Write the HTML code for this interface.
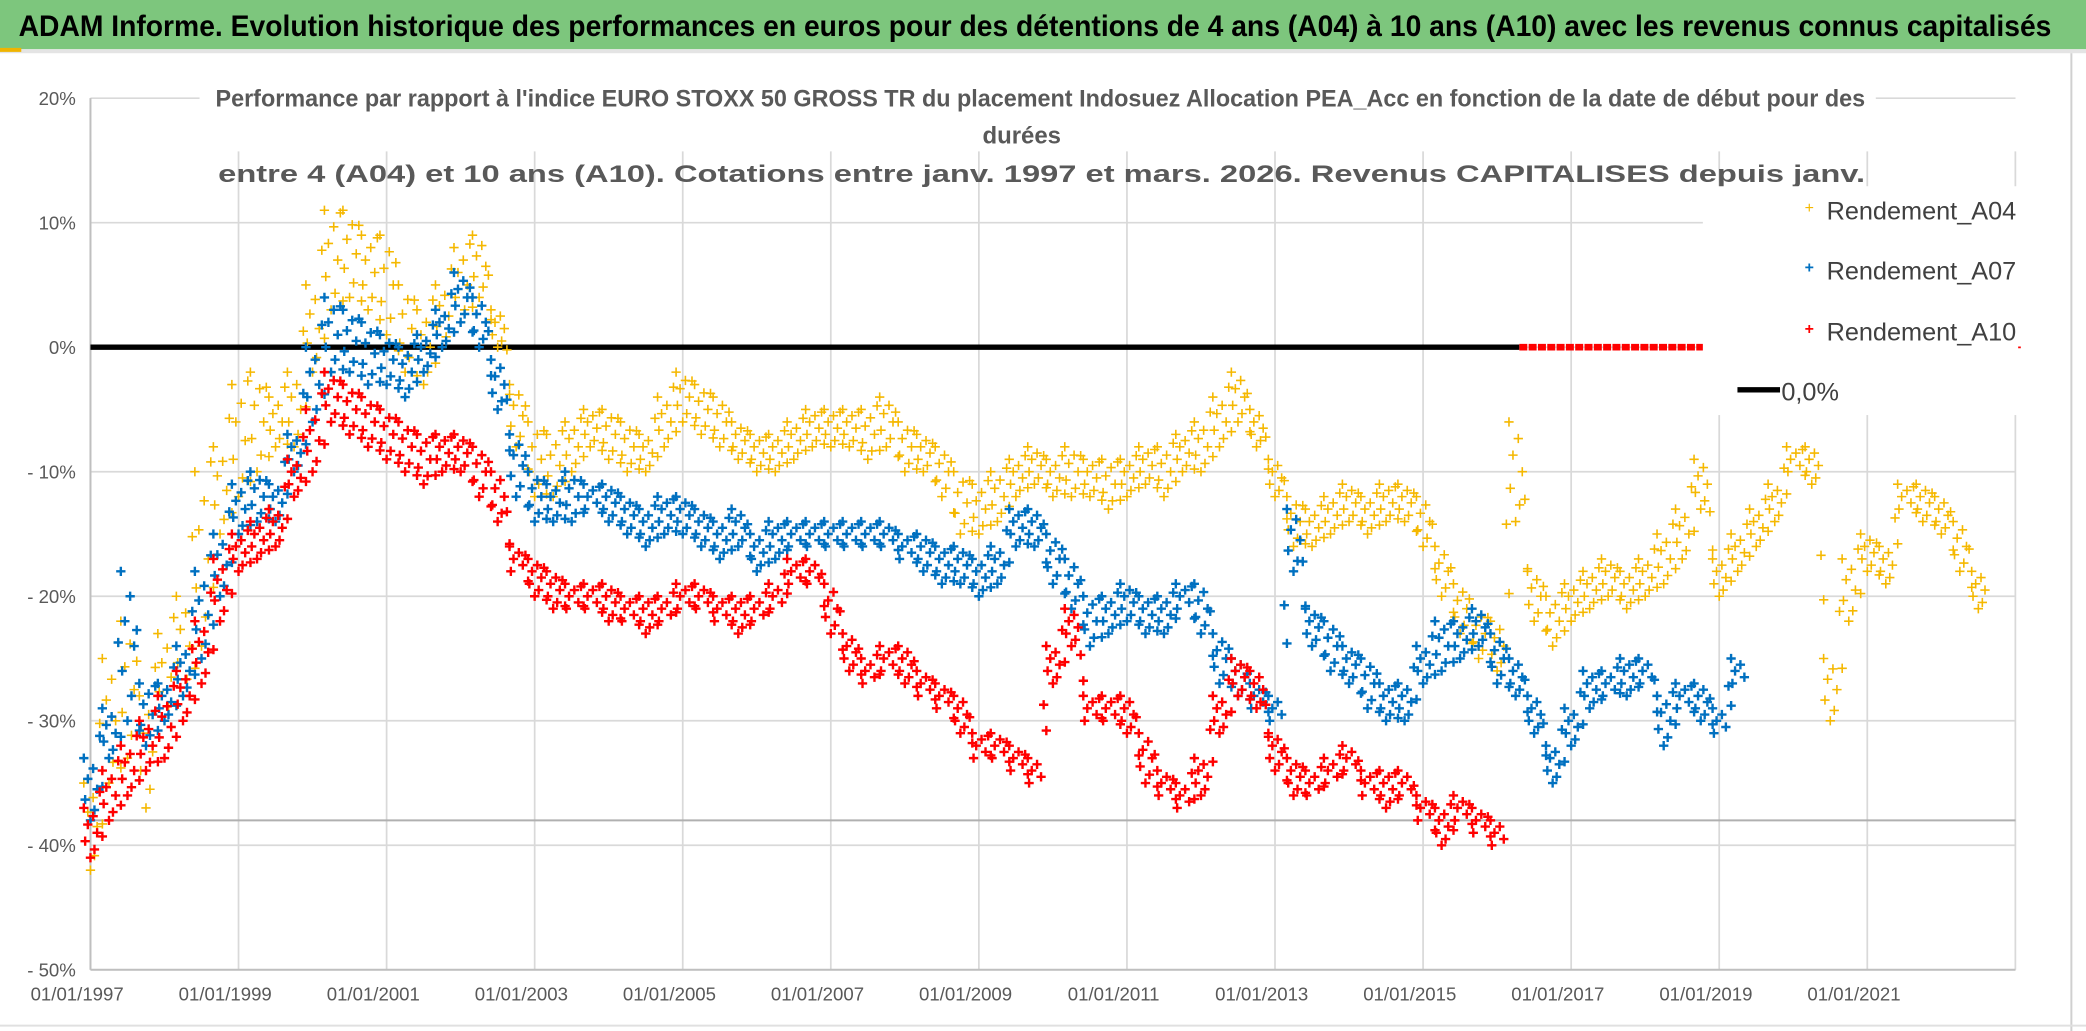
<!DOCTYPE html>
<html><head><meta charset="utf-8">
<style>
html,body{margin:0;padding:0;background:#fff;}
svg{display:block;}
text{font-family:"Liberation Sans Narrow","Liberation Sans",sans-serif;}
</style></head>
<body>
<svg id="chart" width="2086" height="1031" viewBox="0 0 1568 775" preserveAspectRatio="none" xmlns="http://www.w3.org/2000/svg">
  <rect x="0" y="0" width="1568" height="775" fill="#fff"/>
  <rect x="0" y="0" width="1568" height="37" fill="#7dc67d"/>
  <rect x="0" y="37" width="1568" height="3" fill="#e4e4e4"/>
  <rect x="0" y="36" width="16" height="3" fill="#f0b400"/>
  <text x="14" y="27" font-size="22" font-weight="bold" fill="#000" textLength="1528" lengthAdjust="spacingAndGlyphs">ADAM Informe. Evolution historique des performances en euros pour des détentions de 4 ans (A04) à 10 ans (A10) avec les revenus connus capitalisés</text>
  <line x1="1557" y1="40" x2="1557" y2="775" stroke="#d0d0d0" stroke-width="1.5"/>
  <line x1="0" y1="771" x2="1568" y2="771" stroke="#e0e0e0" stroke-width="1.5"/>
  <g id="grid"></g>
  <g id="axes"></g>
  <g id="series"></g>
  <rect x="150" y="60" width="1260" height="22" fill="#fff"/>
  <g fill="#595959" font-size="18" font-weight="bold" text-anchor="middle">
    <text x="782" y="80" textLength="1240" lengthAdjust="spacingAndGlyphs">Performance par rapport à l'indice EURO STOXX 50 GROSS TR  du placement Indosuez Allocation PEA_Acc en fonction de la date de début pour des</text>
    <text x="768" y="108">durées</text>
    <text x="783" y="137" textLength="1238" lengthAdjust="spacingAndGlyphs">entre 4 (A04) et 10 ans (A10). Cotations entre janv. 1997 et mars. 2026. Revenus CAPITALISES depuis janv.</text>
  </g>
  <g id="legend">
    <rect x="1280" y="140" width="237" height="172" fill="#fff"/>
    <g>
      <text x="1360" y="160" fill="#f5b800" font-size="12" text-anchor="middle">+</text>
      <text x="1373" y="165" fill="#404040" font-size="19">Rendement_A04</text>
    </g>
    <g>
      <text x="1360" y="205" fill="#0070c0" font-size="12" text-anchor="middle" font-weight="bold">+</text>
      <text x="1373" y="210" fill="#404040" font-size="19">Rendement_A07</text>
    </g>
    <g>
      <text x="1360" y="251" fill="#ff0000" font-size="12" text-anchor="middle" font-weight="bold">+</text>
      <text x="1373" y="256" fill="#404040" font-size="19">Rendement_A10</text>
    </g>
    <g>
      <line x1="1306" y1="293" x2="1338" y2="293" stroke="#000" stroke-width="4"/>
      <text x="1339" y="301" fill="#404040" font-size="19">0,0%</text>
    </g>
  </g>
  <text x="1516" y="265" fill="#ff0000" font-size="12" text-anchor="middle" font-weight="bold">+</text>
</svg>
<script>
const START_YEAR = 1997;
const STEP = 0.25;
const yTicks = [20, 10, 0, -10, -20, -30, -40, -50];
const yTickLabels = ["20%", "10%", "0%", "- 10%", "- 20%", "- 30%", "- 40%", "- 50%"];
const xTicks = [1997, 1999, 2001, 2003, 2005, 2007, 2009, 2011, 2013, 2015, 2017, 2019, 2021, 2023];
const xTickLabels = ["01/01/1997","01/01/1999","01/01/2001","01/01/2003","01/01/2005","01/01/2007","01/01/2009","01/01/2011","01/01/2013","01/01/2015","01/01/2017","01/01/2019","01/01/2021",""];
const refLineValue = -38;
const a10ZeroRange = [2016.3, 2023];
const a04Lo = [-42,-35,-33,-37,-30,-28,-24,-15,-12,-10,-8,-8,-2,3,4,3,1,-2,-3,0,2,4,0,-8,-12,-12,-10,-8,-9,-10,-10,-8,-6,-7,-8,-9,-10,-10,-9,-8,-8,-8,-9,-8,-10,-10,-12,-15,-15,-14,-12,-11,-12,-12,-12,-13,-12,-11,-12,-10,-10,-8,-6,-8,-12,-16,-16,-15,-14,-15,-14,-14,-16,-20,-23,-25,-26,-14,-22,-24,-22,-21,-20,-21,-20,-19,-17,-13,-20,-18,-16,-14,-10,-11,-30,-22,-18,-19,-13,-14,-15,-18,-21];
const a04Hi = [-35,-25,-22,-28,-23,-20,-10,-8,-3,-2,-4,-2,5,11,11,9,9,5,3,5,8,9,3,-3,-6,-7,-6,-5,-5,-6,-7,-4,-2,-3,-4,-6,-7,-7,-6,-5,-5,-5,-5,-4,-6,-7,-8,-10,-11,-10,-9,-8,-9,-8,-9,-9,-9,-8,-8,-7,-6,-4,-2,-5,-9,-12,-13,-12,-11,-12,-11,-11,-12,-16,-19,-21,-22,-6,-18,-20,-19,-18,-17,-18,-17,-15,-13,-9,-17,-15,-13,-11,-8,-8,-25,-17,-15,-16,-11,-11,-12,-14,-18];
const a07Lo = [-38,-33,-30,-32,-30,-28,-25,-20,-15,-14,-14,-10,-6,-2,-2,-3,-3,-4,-2,0,2,0,-5,-12,-14,-14,-14,-13,-14,-15,-16,-15,-15,-16,-17,-16,-18,-17,-16,-16,-16,-16,-16,-16,-17,-18,-19,-19,-20,-19,-16,-16,-19,-21,-24,-23,-22,-23,-23,-21,-23,-27,-28,-29,-30,-18,-24,-26,-27,-29,-30,-30,-27,-26,-25,-24,-27,-28,-31,-35,-32,-29,-28,-28,-27,-32,-29,-30,-31,-27];
const a07Hi = [-33,-29,-18,-27,-27,-24,-18,-15,-11,-10,-11,-7,0,4,3,2,1,0,1,3,6,4,-1,-7,-10,-11,-10,-11,-11,-12,-13,-12,-12,-13,-14,-13,-15,-14,-14,-14,-14,-14,-14,-14,-15,-15,-16,-16,-17,-16,-13,-13,-15,-17,-20,-20,-19,-20,-20,-19,-19,-23,-25,-27,-28,-13,-21,-22,-24,-25,-27,-27,-24,-22,-22,-21,-23,-25,-28,-32,-29,-26,-26,-25,-25,-28,-27,-27,-29,-25];
const a10Lo = [-41,-38,-36,-34,-33,-30,-27,-22,-18,-17,-16,-12,-10,-6,-7,-8,-9,-10,-11,-10,-10,-12,-14,-18,-20,-21,-21,-21,-22,-22,-23,-22,-21,-21,-22,-23,-22,-21,-19,-19,-23,-26,-27,-26,-27,-28,-29,-31,-33,-33,-34,-35,-27,-24,-30,-30,-31,-35,-36,-37,-36,-31,-28,-29,-34,-36,-36,-35,-34,-36,-37,-36,-38,-40,-38,-39,-40];
const a10Hi = [-37,-34,-32,-30,-28,-26,-22,-17,-15,-14,-13,-9,-5,-2,-3,-4,-5,-6,-7,-7,-7,-8,-10,-16,-17,-18,-19,-19,-19,-20,-20,-20,-19,-19,-20,-20,-20,-19,-17,-17,-19,-23,-25,-24,-24,-26,-27,-28,-31,-31,-32,-33,-24,-21,-28,-28,-28,-31,-34,-35,-33,-28,-25,-26,-31,-33,-34,-33,-32,-34,-34,-34,-36,-37,-36,-37,-38];

const NS = "http://www.w3.org/2000/svg";
const X0 = 68, PX_PER_YEAR = 55.65, Y0 = 261, PX_PER_PCT = 9.36, PLOT_RIGHT = 1515;
function xs(yr){ return X0 + (yr - START_YEAR) * PX_PER_YEAR; }
function ys(v){ return Y0 - v * PX_PER_PCT; }
function mk(tag, attrs, parent){
  const el = document.createElementNS(NS, tag);
  for (const k in attrs) el.setAttribute(k, attrs[k]);
  parent.appendChild(el);
  return el;
}
const grid = document.getElementById('grid');
const axes = document.getElementById('axes');
const series = document.getElementById('series');

yTicks.forEach((v, i) => {
  const ln = mk('line', {x1: X0, y1: ys(v), x2: PLOT_RIGHT, y2: ys(v), stroke: '#d9d9d9', 'stroke-width': 1.3}, grid);
  
  
  const t = mk('text', {x: 57, y: ys(v) + 5, 'text-anchor': 'end', 'font-size': 14, fill: '#595959'}, axes);
  t.textContent = yTickLabels[i];
  
  
});
xTicks.forEach((yr, i) => {
  const ln = mk('line', {x1: xs(yr), y1: ys(yTicks[0]) + 40, x2: xs(yr), y2: ys(-50), stroke: '#d9d9d9', 'stroke-width': 1.3}, grid);
  
  
  if (xTickLabels[i]) {
    const t = mk('text', {x: xs(yr) - 10, y: 752, 'text-anchor': 'middle', 'font-size': 14, fill: '#595959'}, axes);
    t.textContent = xTickLabels[i];
    
    
  }
});
const yAxis = mk('line', {x1: X0, y1: ys(20), x2: X0, y2: ys(-50), stroke: '#bfbfbf', 'stroke-width': 1.5}, axes);


const xAxis = mk('line', {x1: X0, y1: ys(-50), x2: PLOT_RIGHT, y2: ys(-50), stroke: '#bfbfbf', 'stroke-width': 1.5}, axes);


const ref = mk('line', {x1: X0, y1: ys(refLineValue), x2: PLOT_RIGHT, y2: ys(refLineValue), stroke: '#b0b0b0', 'stroke-width': 1.5}, grid);



function cross(g, x, y, color, w){
  return mk('path', {d: `M${x-3.5},${y}h7M${x},${y-3.5}v7`, stroke: color, 'stroke-width': w}, g);
}
const OFFS = [-5, 2, -2, 5, -4, 3, 0];
function drawSeries(lo, hi, color, w, name){
  const g = mk('g', {}, series);
  
  
  for (let i = 0; i < lo.length; i++) {
    const x = xs(START_YEAR + i * STEP);
    const l = ys(lo[i]), h = ys(hi[i]);
    const n = Math.max(3, Math.min(7, Math.round((l - h) / 6) + 2));
    for (let k = 0; k < n; k++) {
      const yy = h + (l - h) * k / (n - 1);
      const xx = x + OFFS[k % OFFS.length];
      const c = cross(g, xx, yy, color, w);
      
      
    }
    if (i + 1 < lo.length) {
      const x2 = xs(START_YEAR + (i + 1) * STEP);
      const l2 = ys(lo[i+1]), h2 = ys(hi[i+1]);
      const c1 = cross(g, (x + x2) / 2, (h + h2) / 2 + 2, color, w);
      
      
      const c2 = cross(g, (x + x2) / 2 + 2, (l + l2) / 2 - 2, color, w);
      
      
    }
  }
}
const zero = mk('line', {x1: X0, y1: ys(0), x2: xs(a10ZeroRange[0]), y2: ys(0), stroke: '#000', 'stroke-width': 4}, series);


drawSeries(a04Lo, a04Hi, '#f5b800', 1.2, 'series-a04');
drawSeries(a07Lo, a07Hi, '#0070c0', 1.8, 'series-a07');
drawSeries(a10Lo, a10Hi, '#ff0000', 1.8, 'series-a10');
const redZero = mk('line', {x1: xs(a10ZeroRange[0]), y1: ys(0), x2: xs(a10ZeroRange[1]), y2: ys(0), stroke: '#ff0000', 'stroke-width': 5, 'stroke-dasharray': '6 1'}, series);


const svg = document.getElementById('chart');
svg.appendChild(document.getElementById('legend'));
</script>
</body></html>
